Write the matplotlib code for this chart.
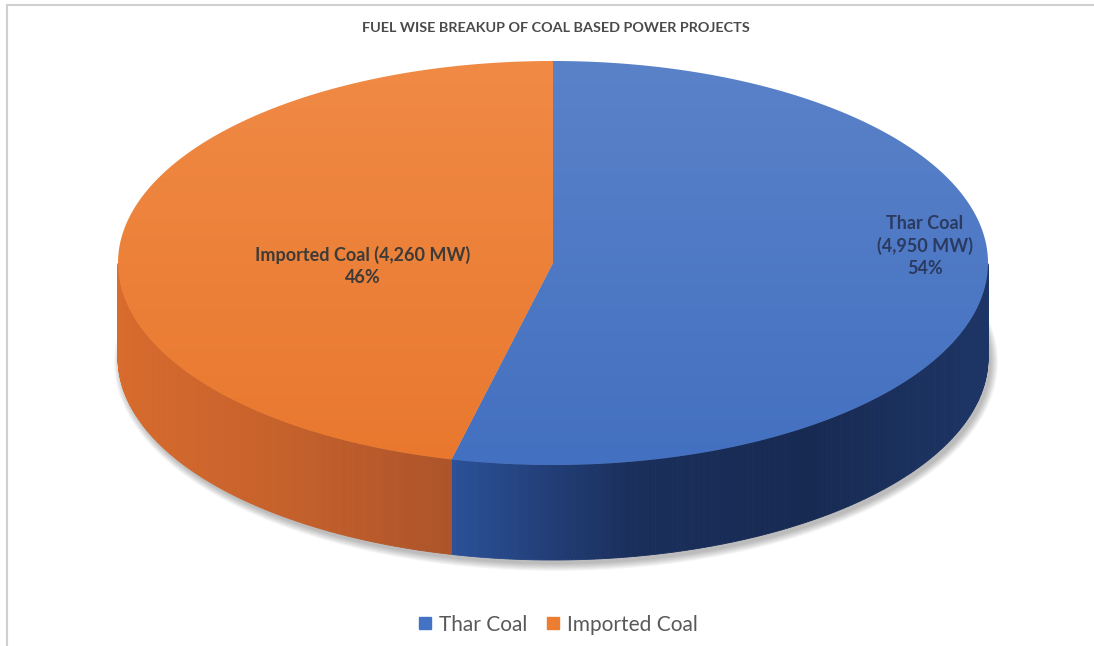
import numpy as np
import matplotlib.pyplot as plt
from matplotlib.patches import Polygon, Ellipse, Rectangle
from matplotlib.lines import Line2D
from matplotlib.colors import LinearSegmentedColormap

# -------------------------
# Data
# -------------------------
fuels = ["Thar Coal", "Imported Coal"]
capacity_mw = [4950, 4260]
slice_labels = ["Thar Coal\n(4,950 MW)\n54%", "Imported Coal (4,260 MW)\n46%"]

top_colors = [("#5a82c9", "#4370c0"), ("#f08a45", "#e9782e")]
side_colors = [["#2b5198", "#1a2f5c", "#172a52", "#1d3566"],
               ["#d86b2d", "#c6612b", "#ad542a"]]
legend_colors = ["#4472C4", "#ED7D31"]

plt.rcParams['font.family'] = ['Lato', 'DejaVu Sans']

fig = plt.figure(figsize=(10.94, 6.46), dpi=100)
ax = fig.add_axes([0, 0, 1, 1])
ax.set_xlim(0, 1094)
ax.set_ylim(646, 0)
ax.axis('off')

# pie layout (pixel units)
cx, cy, a, b, depth = 553, 263, 435, 202, 95


def ell(theta, dz=0.0):
    t = np.radians(theta)
    return cx + a * np.cos(t), cy - b * np.sin(t) + dz


# -------------------------
# Shadow
# -------------------------
for k in range(8):
    ax.add_patch(Ellipse((cx + 3, cy + depth + 4), 2 * a + 14 - 2 * k, 2 * b + 14 - 2 * k,
                         facecolor="#000000", edgecolor="none", alpha=0.035, zorder=1))

# -------------------------
# Slices
# -------------------------
shares = np.array(capacity_mw) / np.sum(capacity_mw)
start = 90.0
for i, share in enumerate(shares):
    end = start - share * 360
    thetas = np.linspace(start, end, 400)

    # side wall (front half only), shaded strip by strip
    front = thetas[np.sin(np.radians(thetas)) < 0]
    if len(front) > 1:
        front = np.sort(front)
        cmap = LinearSegmentedColormap.from_list("side%d" % i, side_colors[i])
        xs = ell(front)[0]
        span = xs.max() - xs.min()
        for t0, t1 in zip(front[:-1], front[1:]):
            x0, y0 = ell(t0)
            x1, y1 = ell(t1)
            col = cmap(((x0 + x1) / 2 - xs.min()) / span)
            ax.add_patch(Polygon([(x0, y0), (x1, y1), (x1, y1 + depth), (x0, y0 + depth)],
                                 closed=True, facecolor=col, edgecolor=col, lw=0.6, zorder=2))

    # top face with vertical gradient
    xs, ys = ell(thetas)
    verts = [(cx, cy)] + list(zip(xs, ys))
    poly = Polygon(verts, closed=True, facecolor="none", edgecolor="none", zorder=3)
    ax.add_patch(poly)
    grad = LinearSegmentedColormap.from_list("top%d" % i, top_colors[i])
    img = ax.imshow(np.linspace(0, 1, 256).reshape(-1, 1), cmap=grad, aspect='auto',
                    extent=(cx - a, cx + a, cy + b, cy - b), origin='upper', zorder=3)
    img.set_clip_path(poly)

    start = end

ax.set_xlim(0, 1094)
ax.set_ylim(646, 0)

# -------------------------
# Labels
# -------------------------
ax.text(363, 266, slice_labels[1], ha='center', va='center', fontsize=13,
        color="#3d3a38", fontweight='bold', linespacing=1.35, zorder=5)
ax.text(925, 246, slice_labels[0], ha='center', va='center', fontsize=13,
        color="#2a3a60", fontweight='bold', linespacing=1.35, zorder=5)

ax.text(556, 28, "FUEL WISE BREAKUP OF COAL BASED POWER PROJECTS", ha='center', va='center',
        fontsize=10.4, fontweight='bold', color="#4a4a4a")

handles = [Line2D([], [], marker='s', linestyle='none', markersize=8,
                  markerfacecolor=c, markeredgecolor=c) for c in legend_colors]
fig.legend(handles, fuels, loc='center', bbox_to_anchor=(0.5105, 0.033), ncol=2,
           frameon=False, fontsize=15, handlelength=0.6, handletextpad=0.35,
           columnspacing=0.95, labelcolor="#595959")

# chart border
fig.add_artist(Rectangle((7 / 1094, -0.05), 1.2, 1 - 5 / 646 + 0.05, transform=fig.transFigure,
                         facecolor='none', edgecolor="#d0d0d0", lw=1.5))

fig.savefig("out.png", dpi=100)
